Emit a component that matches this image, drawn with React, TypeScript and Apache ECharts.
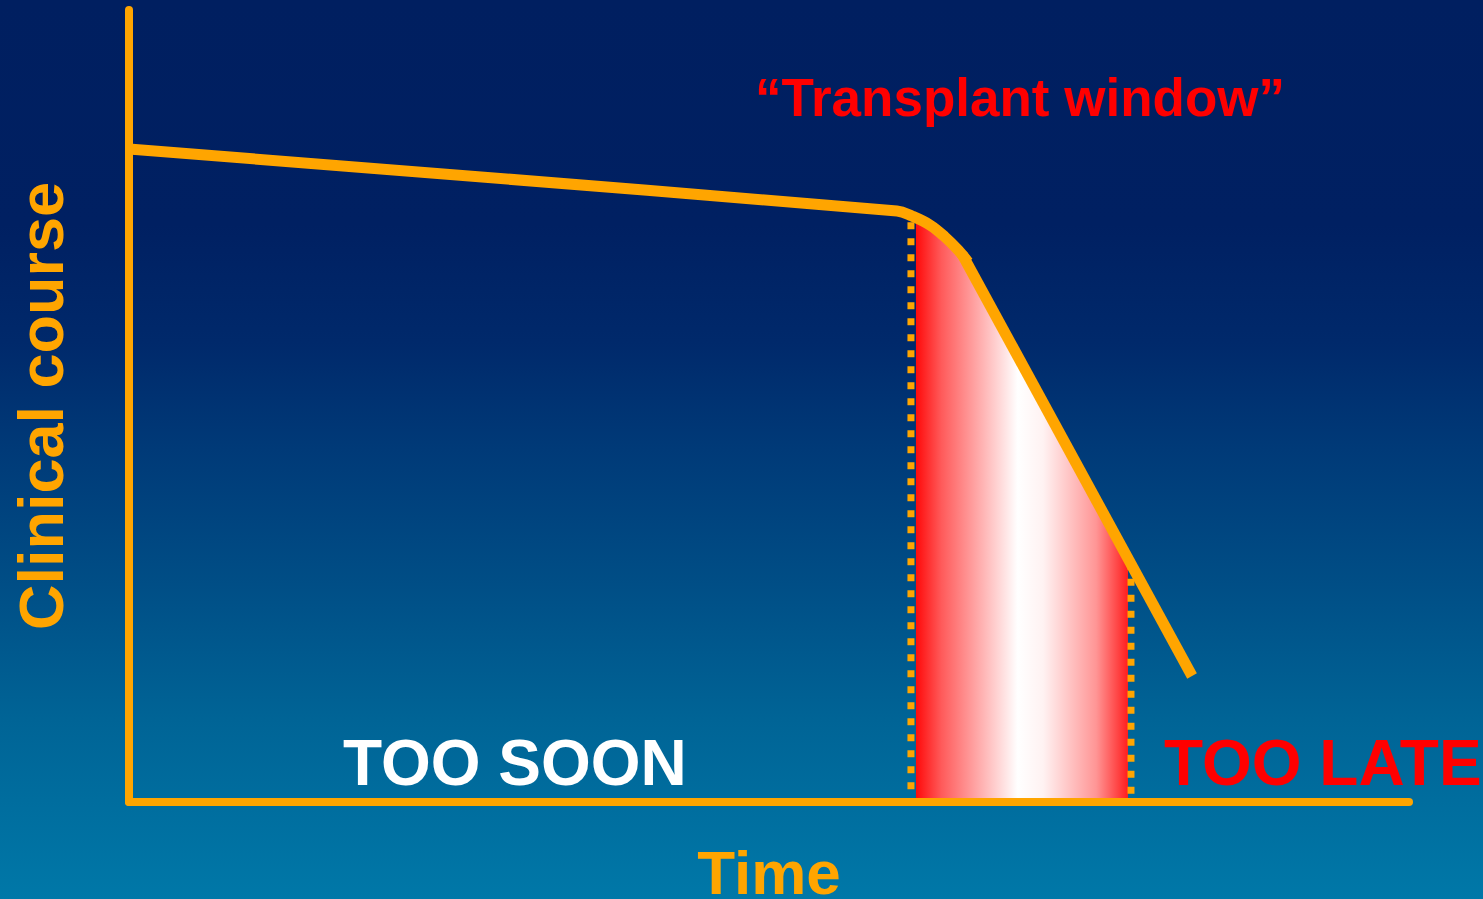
import React, { useEffect, useRef } from "react";
import * as echarts from "echarts";

// Clinical course over time (axis units 0–100 on both axes)
const plateauCourse: [number, number][] = [
  [0, 82.45],
  [60.0, 74.62],
  [61.17, 73.99],
  [62.58, 72.85],
  [63.75, 71.34],
  [64.77, 69.7],
  [65.55, 68.18],
];
const steepDecline: [number, number][] = [
  [65.08, 69.19],
  [83.05, 15.91],
];
// Upper edge of the transplant window (follows the course)
const windowEdge: [number, number][] = [
  [61.48, 74.24],
  [62.58, 72.85],
  [63.75, 71.34],
  [64.77, 69.7],
  [65.55, 68.18],
  [66.0, 67.3],
  [78.05, 30.81],
];
const windowStartLine: [number, number][] = [
  [61.09, 73.2],
  [61.09, 0],
];
const windowEndLine: [number, number][] = [
  [78.28, 30.2],
  [78.28, 0],
];

const axisTitleX = "Time";
const axisTitleY = "Clinical course";
const windowLabel = "\u201CTransplant window\u201D";
const earlyLabel = "TOO SOON";
const lateLabel = "TOO LATE";

const ORANGE = "#FFA500";
const RED = "#FF0000";
const FONT = '"Liberation Sans", Arial, Helvetica, sans-serif';

export default function App() {
  const ref = useRef<HTMLDivElement>(null);

  useEffect(() => {
    if (!ref.current) return;
    const chart = echarts.init(ref.current, null, { renderer: "svg" });

    const hiddenAxisParts = {
      axisTick: { show: false },
      axisLabel: { show: false },
      splitLine: { show: false },
    };

    chart.setOption({
      animation: false,
      grid: {
        left: 129,
        right: 74,
        top: 10,
        bottom: 97,
        containLabel: false,
        outerBoundsMode: "none",
      },
      xAxis: {
        type: "value",
        min: 0,
        max: 100,
        z: 10,
        ...hiddenAxisParts,
        axisLine: { show: true, lineStyle: { color: ORANGE, width: 8 } },
        name: axisTitleX,
        nameLocation: "middle",
        nameGap: 39,
        nameTextStyle: {
          color: ORANGE,
          fontSize: 62,
          fontWeight: "bold",
          fontFamily: FONT,
        },
      },
      yAxis: {
        type: "value",
        min: 0,
        max: 100,
        z: 10,
        ...hiddenAxisParts,
        axisLine: { show: true, lineStyle: { color: ORANGE, width: 8 } },
        name: axisTitleY,
        nameLocation: "middle",
        nameRotate: 90,
        nameGap: 57,
        nameTextStyle: {
          color: ORANGE,
          fontSize: 63,
          fontWeight: "bold",
          fontFamily: FONT,
        },
      },
      graphic: [
        {
          type: "text",
          x: 1020,
          y: 97,
          style: {
            text: windowLabel,
            fill: RED,
            font: `bold 53px ${FONT}`,
            textAlign: "center",
            textVerticalAlign: "middle",
          },
        },
        {
          type: "text",
          x: 343,
          y: 763,
          style: {
            text: earlyLabel,
            fill: "#FFFFFF",
            font: `bold 64px ${FONT}`,
            textAlign: "left",
            textVerticalAlign: "middle",
          },
        },
        {
          type: "text",
          x: 1164,
          y: 763,
          style: {
            text: lateLabel,
            fill: RED,
            font: `bold 64px ${FONT}`,
            textAlign: "left",
            textVerticalAlign: "middle",
          },
        },
      ],
      series: [
        {
          type: "line",
          data: windowEdge,
          symbol: "none",
          smooth: false,
          lineStyle: { width: 0, opacity: 0 },
          areaStyle: {
            opacity: 1,
            color: new echarts.graphic.LinearGradient(0, 0, 1, 0, [
              { offset: 0, color: "#ff0a0a" },
              { offset: 0.12, color: "#ff5a5a" },
              { offset: 0.48, color: "#ffffff" },
              { offset: 0.6, color: "#fff2f2" },
              { offset: 0.85, color: "#ff9595" },
              { offset: 1, color: "#ff1e1e" },
            ]),
          },
          z: 2,
        },
        {
          type: "line",
          data: windowStartLine,
          symbol: "none",
          lineStyle: { color: ORANGE, width: 7, type: [7, 9] },
          z: 3,
        },
        {
          type: "line",
          data: windowEndLine,
          symbol: "none",
          lineStyle: { color: ORANGE, width: 7, type: [7, 9] },
          z: 3,
        },
        {
          type: "line",
          data: plateauCourse,
          symbol: "none",
          smooth: 0.4,
          lineStyle: { color: ORANGE, width: 11, cap: "butt" },
          z: 4,
        },
        {
          type: "line",
          data: steepDecline,
          symbol: "none",
          lineStyle: { color: ORANGE, width: 11, cap: "butt" },
          z: 4,
        },
      ],
    });

    return () => chart.dispose();
  }, []);

  return (
    <div
      ref={ref}
      style={{
        position: "fixed",
        left: 0,
        top: 0,
        width: 1483,
        height: 899,
        background:
          "linear-gradient(to bottom, #001f60 0%, #002062 25%, #00296b 38%, #003a78 50%, #004e86 65%, #006496 80%, #0078a8 100%)",
      }}
    />
  );
}
